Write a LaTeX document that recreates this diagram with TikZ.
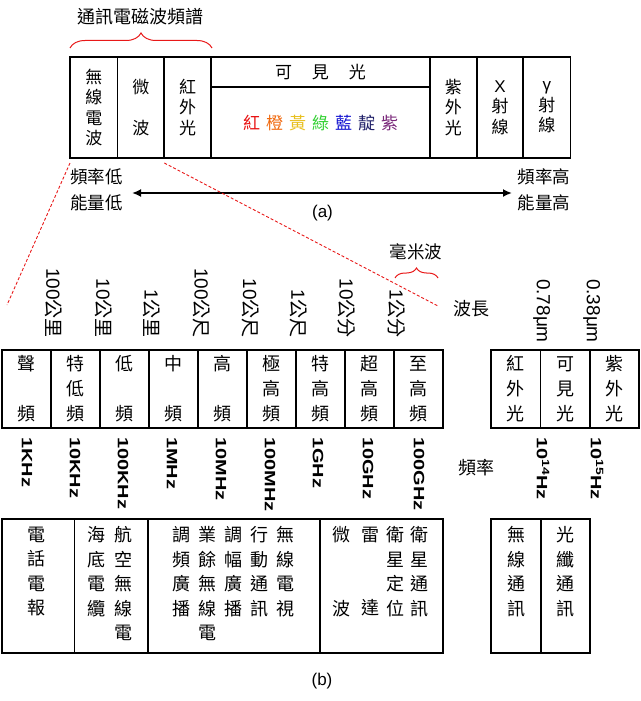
\documentclass[tikz,border=0pt]{standalone}
\usepackage{fontspec}
\setmainfont{Liberation Sans}
\newfontfamily\cj{Noto Sans CJK TC}
\usetikzlibrary{arrows.meta,decorations.pathreplacing}
\definecolor{cRed}{HTML}{E81010}
\definecolor{cOrange}{HTML}{F06A10}
\definecolor{cYellow}{HTML}{E8C020}
\definecolor{cGreen}{HTML}{30D030}
\definecolor{cBlue}{HTML}{1010D0}
\definecolor{cIndigo}{HTML}{202068}
\definecolor{cPurple}{HTML}{7A287A}
\definecolor{cLine}{HTML}{E81818}
\begin{document}
\begin{tikzpicture}[x=1pt,y=-1pt,
  boxcell/.style={draw, line width=1.8pt, inner sep=0pt, align=center},
  topcell/.style={boxcell, minimum height=101pt, font=\cj\fontsize{17}{20.4}\selectfont},
  midcell/.style={boxcell, minimum width=49pt, minimum height=78pt, font=\cj\fontsize{18}{25}\selectfont},
  lowcell/.style={boxcell, minimum height=134pt},
  coltext/.style={anchor=north, inner sep=0pt, align=center, font=\cj\fontsize{18}{24.5}\selectfont},
  cjlab/.style={inner sep=0pt, font=\cj\fontsize{17.5}{17.5}\selectfont},
  flab/.style={rotate=-90, anchor=west, inner sep=0pt, font=\bfseries\fontsize{15}{15}\selectfont},
  wlab/.style={rotate=-90, anchor=east, inner sep=0pt, font=\fontsize{19}{19}\selectfont},
  redbrace/.style={draw=cLine, line width=1pt, decorate},
  reddash/.style={draw=cLine, line width=0.9pt, dash pattern=on 3pt off 2pt},
  capt/.style={inner sep=0pt, font=\fontsize{17}{17}\selectfont}
]
\useasboundingbox (0,0) rectangle (640,701);

% ---------- (a) spectrum ----------
\node[cjlab, font=\cj\fontsize{18}{18}\selectfont] (title) at (140.5,17) {通訊電磁波頻譜};
\coordinate (brL) at (70,48);
\coordinate (brR) at (212,48);
\draw[redbrace, decoration={brace, amplitude=15pt}] (brL) -- (brR);

\node[topcell, minimum width=47.5pt] (t1) at (93.75,107.5) {無\\線\\電\\波};
\node[topcell, minimum width=46.8pt] (t2) at (140.9,107.5) {微\\\mbox{}\\波};
\node[topcell, minimum width=46.7pt] (t3) at (187.65,107.5) {紅\\外\\光};
\node[boxcell, minimum width=219pt, minimum height=30.3pt, font=\cj\fontsize{17}{17}\selectfont] (tv1) at (320.5,72.15) {可\hspace{20pt}見\hspace{20pt}光};
\node[boxcell, minimum width=219pt, minimum height=70.7pt, font=\cj\fontsize{17}{17}\selectfont] (tv2) at (320.5,122.65)
  {\textcolor{cRed}{紅}\hspace{6pt}\textcolor{cOrange}{橙}\hspace{6pt}\textcolor{cYellow}{黃}\hspace{6pt}\textcolor{cGreen}{綠}\hspace{6pt}\textcolor{cBlue}{藍}\hspace{6pt}\textcolor{cIndigo}{靛}\hspace{6pt}\textcolor{cPurple}{紫}};
\node[topcell, minimum width=46.7pt] (t5) at (453.35,107.5) {紫\\外\\光};
\node[topcell, minimum width=46.6pt] (t6) at (500,107.5) {\textrm{X}\\射\\線};
\node[topcell, minimum width=47.2pt] (t7) at (546.9,107.5) {\textrm{γ}\\射\\線};

\node[cjlab, anchor=west] (lowf) at (70,177) {頻率低};
\node[cjlab, anchor=west] (lowe) at (70,203) {能量低};
\node[cjlab, anchor=east] (highf) at (570.5,177) {頻率高};
\node[cjlab, anchor=east] (highe) at (570.5,203) {能量高};
\coordinate (arL) at (132,193);
\coordinate (arR) at (512,193);
\draw[line width=2pt, {Latex[length=9pt,width=8pt]}-{Latex[length=9pt,width=8pt]}] (arL) -- (arR);
\node[capt] (capa) at (322.5,213) {(a)};

% red dashed zoom lines
\coordinate (d1s) at (70,163);
\coordinate (d1e) at (7,305);
\coordinate (d2s) at (164.3,163);
\coordinate (d2e) at (438,306);
\draw[reddash] (d1s) -- (d1e);
\draw[reddash] (d2s) -- (d2e);

% ---------- (b) ----------
\node[cjlab] (mmw) at (416,252) {毫米波};
\coordinate (mbL) at (395,278);
\coordinate (mbR) at (438,278);
\draw[redbrace, decoration={brace, amplitude=10pt}] (mbL) -- (mbR);
\node[cjlab, font=\cj\fontsize{18}{18}\selectfont] (wl) at (471,309) {波長};

\node[wlab] (w1) at (53.3,338) {100{\cj 公里}};
\node[wlab] (w2) at (103.3,338) {10{\cj 公里}};
\node[wlab] (w3) at (151.7,338) {1{\cj 公里}};
\node[wlab] (w4) at (201.7,338) {100{\cj 公尺}};
\node[wlab] (w5) at (250,338) {10{\cj 公尺}};
\node[wlab] (w6) at (298.3,338) {1{\cj 公尺}};
\node[wlab] (w7) at (346.7,338) {10{\cj 公分}};
\node[wlab] (w8) at (396.7,338) {1{\cj 公分}};
\node[wlab] (w9) at (541.7,343) {0.78μm};
\node[wlab] (w10) at (591.7,343) {0.38μm};

\node[midcell] (b1) at (26.5,389) {聲\\\mbox{}\\頻};
\node[midcell] (b2) at (75.5,389) {特\\低\\頻};
\node[midcell] (b3) at (124.5,389) {低\\\mbox{}\\頻};
\node[midcell] (b4) at (173.5,389) {中\\\mbox{}\\頻};
\node[midcell] (b5) at (222.5,389) {高\\\mbox{}\\頻};
\node[midcell] (b6) at (271.5,389) {極\\高\\頻};
\node[midcell] (b7) at (320.5,389) {特\\高\\頻};
\node[midcell] (b8) at (369.5,389) {超\\高\\頻};
\node[midcell] (b9) at (418.5,389) {至\\高\\頻};
\node[midcell, minimum width=49.5pt] (r1) at (515.75,389) {紅\\外\\光};
\node[midcell, minimum width=49.5pt] (r2) at (565.25,389) {可\\見\\光};
\node[midcell] (r3) at (614.5,389) {紫\\外\\光};

\node[flab] (f1) at (27,437) {\scalebox{1.33}[1]{1KHz}};
\node[flab] (f2) at (75,437) {\scalebox{1.33}[1]{10KHz}};
\node[flab] (f3) at (123,437) {\scalebox{1.33}[1]{100KHz}};
\node[flab] (f4) at (172,437) {\scalebox{1.33}[1]{1MHz}};
\node[flab] (f5) at (221,437) {\scalebox{1.33}[1]{10MHz}};
\node[flab] (f6) at (270,437) {\scalebox{1.33}[1]{100MHz}};
\node[flab] (f7) at (318,437) {\scalebox{1.33}[1]{1GHz}};
\node[flab] (f8) at (368,437) {\scalebox{1.33}[1]{10GHz}};
\node[flab] (f9) at (419,437) {\scalebox{1.33}[1]{100GHz}};
\node[flab] (f10) at (543,437) {\scalebox{1.33}[1]{10\textsuperscript{14}Hz}};
\node[flab] (f11) at (597,437) {\scalebox{1.33}[1]{10\textsuperscript{15}Hz}};
\node[cjlab, font=\cj\fontsize{18}{18}\selectfont] (fq) at (476,468) {頻率};

% ---------- applications ----------
\node[lowcell, minimum width=72.5pt] (k1) at (38.25,586) {};
\node[lowcell, minimum width=73.5pt] (k2) at (111.25,586) {};
\node[lowcell, minimum width=172pt] (k3) at (234,586) {};
\node[lowcell, minimum width=123pt] (k4) at (381.5,586) {};
\node[lowcell, minimum width=50pt] (k5) at (516,586) {};
\node[lowcell, minimum width=49pt] (k6) at (565.5,586) {};

\node[coltext] (a1) at (36.7,526.5) {電\\話\\電\\報};
\node[coltext] (a2) at (96.7,526.5) {海\\底\\電\\纜};
\node[coltext] (a3) at (123.3,526.5) {航\\空\\無\\線\\電};
\node[coltext] (a4) at (181.7,526.5) {調\\頻\\廣\\播};
\node[coltext] (a5) at (207,526.5) {業\\餘\\無\\線\\電};
\node[coltext] (a6) at (233.3,526.5) {調\\幅\\廣\\播};
\node[coltext] (a7) at (259,526.5) {行\\動\\通\\訊};
\node[coltext] (a8) at (285,526.5) {無\\線\\電\\視};
\node[coltext] (a9) at (341,526.5) {微\\\mbox{}\\\mbox{}\\波};
\node[coltext] (a10) at (370,526.5) {雷\\\mbox{}\\\mbox{}\\達};
\node[coltext] (a11) at (395,526.5) {衛\\星\\定\\位};
\node[coltext] (a12) at (419.5,526.5) {衛\\星\\通\\訊};
\node[coltext] (a13) at (516,526.5) {無\\線\\通\\訊};
\node[coltext] (a14) at (565.5,526.5) {光\\纖\\通\\訊};

\node[capt] (capb) at (322,681) {(b)};
\end{tikzpicture}
\end{document}
